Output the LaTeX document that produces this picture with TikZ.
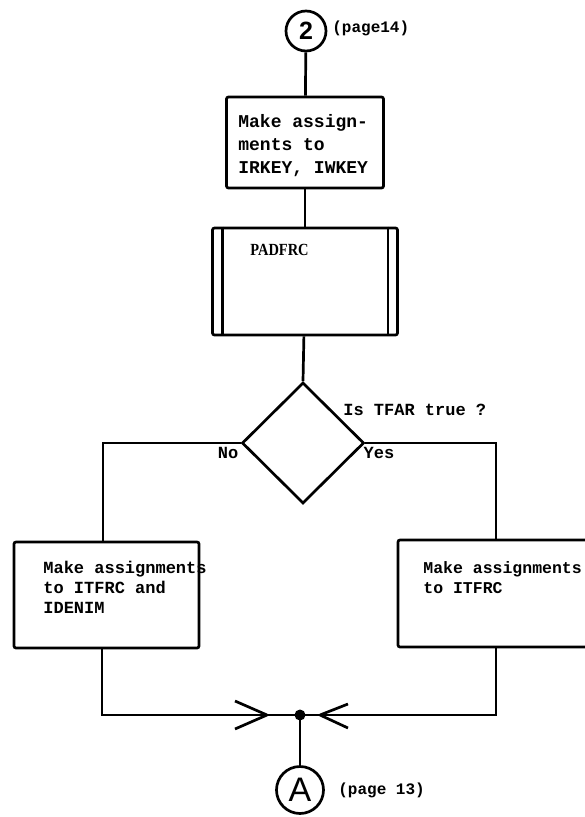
\documentclass[tikz,border=0pt]{standalone}
\usepackage{fontspec}
\usepackage{graphicx}
\setmainfont{Liberation Serif}
\setmonofont{Liberation Mono}
\setsansfont{Liberation Sans}
\usetikzlibrary{shapes.geometric}
\begin{document}
\begin{tikzpicture}[x=1pt,y=-1pt,
  line width=2.7pt,
  lbl/.style={font=\ttfamily\bfseries\fontsize{17}{20}\selectfont, inner sep=0pt, align=left},
  procbox/.style={draw, rectangle, rounded corners=2pt, inner sep=0pt},
  conncircle/.style={draw, circle, inner sep=0pt}
]
\useasboundingbox (0,0) rectangle (584,817);
% top connector
\node[conncircle, minimum size=40pt, font=\sffamily\bfseries\fontsize{25}{25}\selectfont] (c2) at (306,31) {2};
\node[lbl, anchor=west, font=\ttfamily\bfseries\fontsize{16}{16}\selectfont] (p14) at (331,28) {(page14)};
% box 1
\node[procbox, minimum width=157pt, minimum height=91pt] (b1) at (305,142.5) {};
\node[lbl, anchor=west, font=\ttfamily\bfseries\fontsize{18}{23}\selectfont] (b1t) at (237,146) {Make assign-\\ments to\\IRKEY, IWKEY};
% predefined process
\node[procbox, minimum width=185pt, minimum height=107pt] (b2) at (305,281.5) {};
\draw ([xshift=11pt]b2.north west) -- ([xshift=11pt]b2.south west);
\draw ([xshift=-11pt]b2.north east) -- ([xshift=-11pt]b2.south east);
\node[inner sep=0pt, anchor=west, font=\rmfamily\bfseries\fontsize{17}{17}\selectfont] (b2t) at (249,250) {\scalebox{0.85}[1]{PADFRC}};
% decision
\node[draw, diamond, minimum width=122pt, minimum height=121pt, inner sep=0pt] (d) at (303,443) {};
\node[lbl, anchor=west] (q) at (342,410) {Is TFAR true ?};
\node[lbl] (no) at (228,453) {No};
\node[lbl] (yes) at (379,453) {Yes};
% branch boxes
\node[procbox, minimum width=185pt, minimum height=106pt] (lb) at (106.5,595) {};
\node[lbl, anchor=north west] (lbt) at (42,560) {Make assignments\\to ITFRC and\\IDENIM};
\node[procbox, minimum width=202pt, minimum height=107pt] (rb) at (499,593.5) {};
\node[lbl, anchor=north west, font=\ttfamily\bfseries\fontsize{16.5}{20}\selectfont] (rbt) at (422,560) {Make assignments\\to ITFRC};
% bottom connector
\node[conncircle, minimum size=47pt, font=\sffamily\fontsize{34}{34}\selectfont] (cA) at (300,790) {A};
\node[lbl, anchor=west, font=\ttfamily\bfseries\fontsize{16}{16}\selectfont] (p13) at (337,790) {(page 13)};
\coordinate (j) at (300,715);
\coordinate (lt) at (267,715);
\coordinate (rt) at (320,715);
% connectors
\draw (c2) -- (b1);
\draw (b1) -- (b2);
\draw (b2) -- (d.north);
\draw (d.west) -| ([xshift=-3.5pt]lb.north);
\draw (d.east) -| ([xshift=-3pt]rb.north);
\draw ([xshift=-4.5pt]lb.south) |- (j);
\draw ([xshift=-3pt]rb.south) |- (j);
\draw (j) -- (cA);
\fill (j) circle (5.5pt);
\draw (lt) -- ++(-32,-14) (lt) -- ++(-32,14);
\draw (rt) -- ++(28,-11) (rt) -- ++(28,13);
\end{tikzpicture}
\end{document}
